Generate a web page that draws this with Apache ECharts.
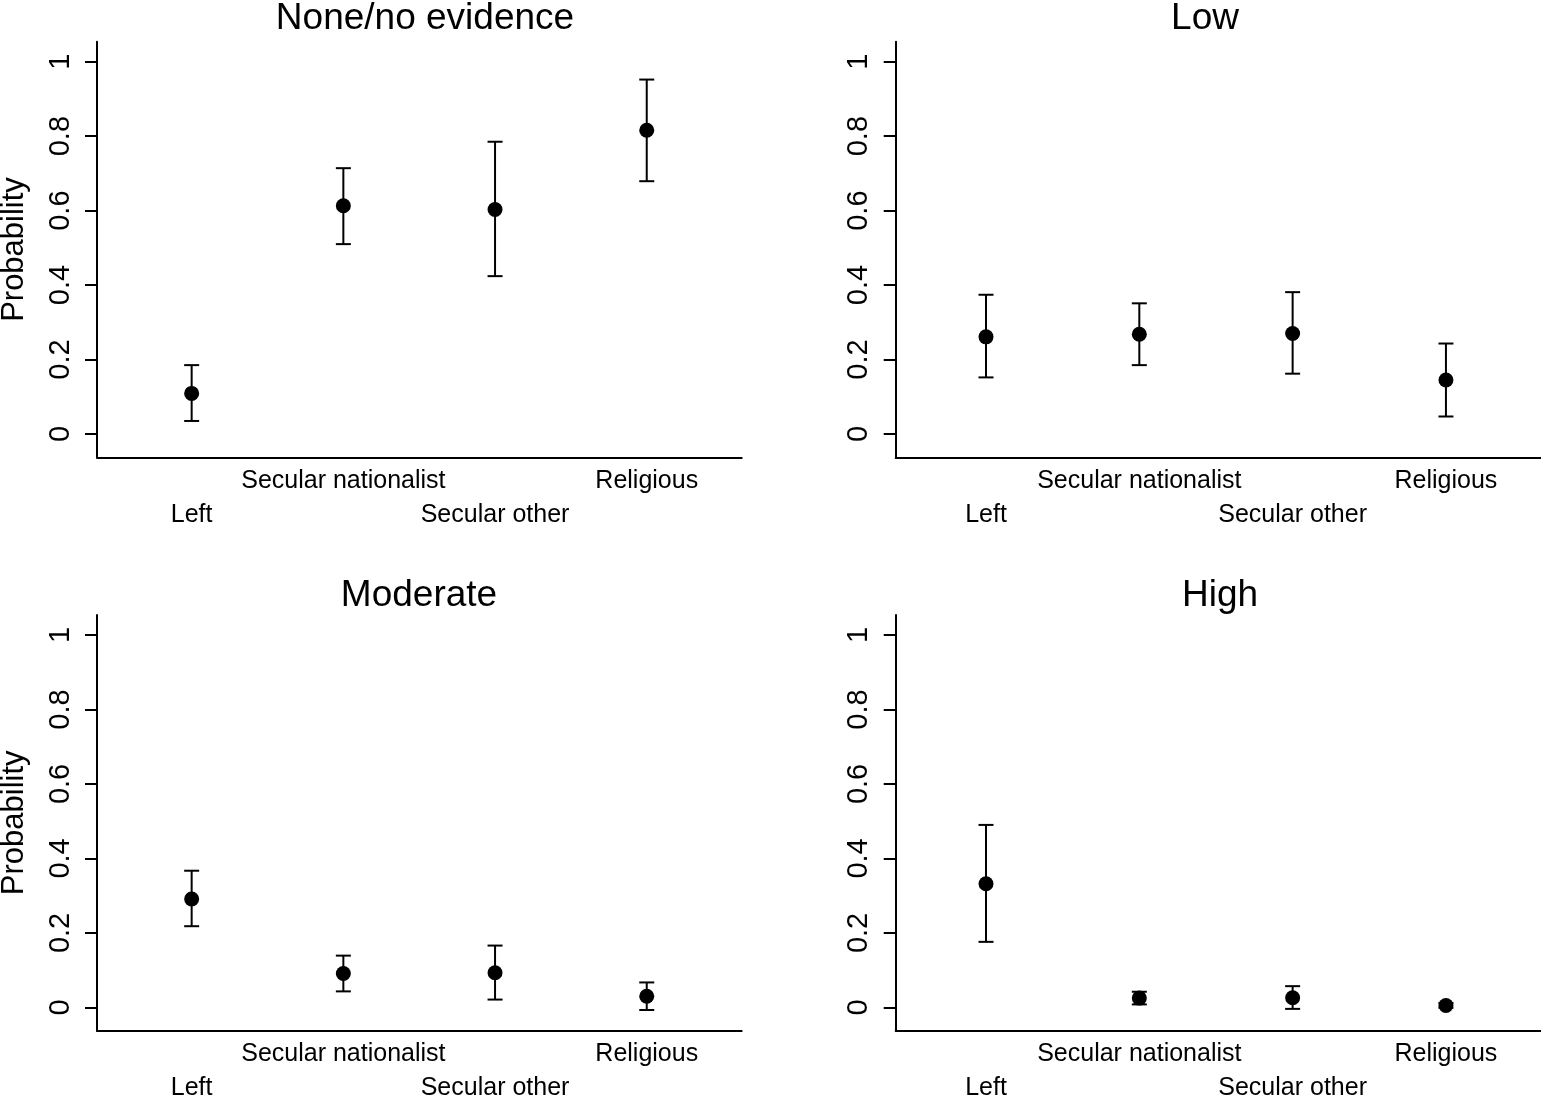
<!DOCTYPE html>
<html>
<head>
<meta charset="utf-8">
<script src="https://cdn.jsdelivr.net/npm/echarts@6/dist/echarts.min.js"></script>
<style>
html,body{margin:0;padding:0;background:#fff;}
#c{width:1541px;height:1096px;}
</style>
</head>
<body>
<div id="c"></div>
<script>
const categories = ['Left', 'Secular nationalist', 'Secular other', 'Religious'];
const panelTitles = ['None/no evidence', 'Low', 'Moderate', 'High'];
const yTicks = [0, 0.2, 0.4, 0.6, 0.8, 1];

const noneEst  = [0.109, 0.613, 0.603, 0.816];
const noneLow  = [0.035, 0.510, 0.424, 0.679];
const noneHigh = [0.185, 0.714, 0.785, 0.952];

const lowEst  = [0.261, 0.268, 0.270, 0.145];
const lowLow  = [0.152, 0.185, 0.162, 0.047];
const lowHigh = [0.374, 0.351, 0.381, 0.243];

const modEst  = [0.291, 0.091, 0.093, 0.030];
const modLow  = [0.218, 0.043, 0.021, -0.007];
const modHigh = [0.367, 0.139, 0.166, 0.067];

const highEst  = [0.332, 0.025, 0.026, 0.005];
const highLow  = [0.176, 0.008, -0.004, -0.001];
const highHigh = [0.490, 0.042, 0.057, 0.012];

const panels = [
  {est: noneEst, low: noneLow, high: noneHigh},
  {est: lowEst, low: lowLow, high: lowHigh},
  {est: modEst, low: modLow, high: modHigh},
  {est: highEst, low: highLow, high: highHigh}
];

const FONT = '"Liberation Sans", Arial, Helvetica, sans-serif';
const grids = [
  {left: 97, top: 41.7, width: 644.7, height: 415.6, xmin: 0.376, xmax: 4.626},
  {left: 895.7, top: 41.7, width: 645.3, height: 415.6, xmin: 0.411, xmax: 4.620},
  {left: 97, top: 615, width: 644.7, height: 415.7, xmin: 0.376, xmax: 4.626},
  {left: 895.7, top: 615, width: 645.3, height: 415.7, xmin: 0.411, xmax: 4.620}
];
const titlePos = [
  {x: 420, y: -5}, {x: 1200, y: -5}, {x: 414, y: 572}, {x: 1215, y: 572}
];

const option = {
  backgroundColor: '#fff',
  animation: false,
  title: panelTitles.map((t, i) => ({
    text: t, left: titlePos[i].x, top: titlePos[i].y, textAlign: 'center',
    textStyle: {fontFamily: FONT, fontSize: 37, fontWeight: 'normal', color: '#000'}
  })),
  grid: grids.map(g => ({left: g.left, top: g.top, width: g.width, height: g.height,
    containLabel: false, outerBoundsMode: 'none'})),
  xAxis: [],
  yAxis: [],
  series: []
};

grids.forEach((g, i) => {
  option.xAxis.push({
    type: 'value', gridIndex: i, min: g.xmin, max: g.xmax, position: 'bottom',
    splitLine: {show: false},
    axisLine: {show: true, onZero: false, lineStyle: {color: '#000', width: 2}},
    axisTick: {show: false},
    axisLabel: {
      customValues: [2, 4], margin: 11,
      formatter: v => categories[Math.round(v) - 1],
      fontFamily: FONT, fontSize: 25, color: '#000'
    }
  });
  option.xAxis.push({
    type: 'value', gridIndex: i, min: g.xmin, max: g.xmax, position: 'bottom',
    splitLine: {show: false},
    axisLine: {show: false},
    axisTick: {show: false},
    axisLabel: {
      customValues: [1, 3], margin: 45,
      formatter: v => categories[Math.round(v) - 1],
      fontFamily: FONT, fontSize: 25, color: '#000'
    }
  });
  option.yAxis.push({
    type: 'value', gridIndex: i, min: -0.0626, max: 1.0537,
    name: (i % 2 === 0) ? 'Probability' : '',
    nameLocation: 'middle', nameRotate: 90, nameGap: 67,
    nameTextStyle: {fontFamily: FONT, fontSize: 31, color: '#000'},
    splitLine: {show: false},
    axisLine: {show: true, onZero: false, lineStyle: {color: '#000', width: 2}},
    axisTick: {show: true, customValues: yTicks, length: 12, lineStyle: {color: '#000', width: 2}},
    axisLabel: {
      customValues: yTicks, rotate: 90, margin: 22,
      formatter: v => String(Math.round(v * 10) / 10),
      fontFamily: FONT, fontSize: 29, color: '#000'
    }
  });
  const p = panels[i];
  const barData = categories.map((c, k) => [k + 1, p.low[k], p.high[k]]);
  const ptData = categories.map((c, k) => [k + 1, p.est[k]]);
  option.series.push({
    type: 'custom', xAxisIndex: i * 2, yAxisIndex: i,
    data: barData,
    encode: {x: 0, y: [1, 2]},
    clip: false,
    renderItem: (params, api) => {
      const x = api.value(0);
      const lo = api.coord([x, api.value(1)]);
      const hi = api.coord([x, api.value(2)]);
      const hw = 7.5;
      const st = {stroke: '#000', lineWidth: 2, fill: 'none'};
      return {
        type: 'group',
        children: [
          {type: 'line', shape: {x1: lo[0], y1: lo[1], x2: hi[0], y2: hi[1]}, style: st},
          {type: 'line', shape: {x1: lo[0] - hw, y1: lo[1], x2: lo[0] + hw, y2: lo[1]}, style: st},
          {type: 'line', shape: {x1: hi[0] - hw, y1: hi[1], x2: hi[0] + hw, y2: hi[1]}, style: st}
        ]
      };
    },
    z: 2
  });
  option.series.push({
    type: 'scatter', xAxisIndex: i * 2, yAxisIndex: i,
    data: ptData, symbol: 'circle', symbolSize: 15,
    itemStyle: {color: '#000', opacity: 1}, z: 3
  });
});

const chart = echarts.init(document.getElementById('c'), null, {renderer: 'canvas'});
chart.setOption(option);
</script>
</body>
</html>
